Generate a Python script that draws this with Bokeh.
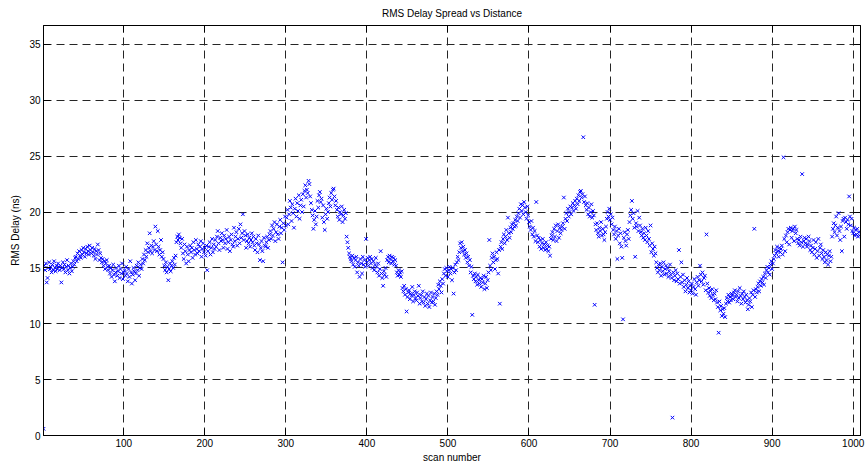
from bokeh.plotting import figure
from bokeh.models import LinearAxis, Range1d, FixedTicker, ColumnDataSource
from bokeh.embed import file_html
from bokeh.resources import INLINE

# RMS delay spread (ns) per scan, in blocks of 100 scans
delay_0001_0100 = [
    0.6, 15.2, 14.8, 15.4, 13.7, 14.1, 15.0, 15.5, 14.9, 15.1, 14.6, 15.3, 14.8, 15.6, 15.0, 14.7, 15.2, 14.9, 15.4, 15.1,
    14.8, 15.2, 13.7, 15.0, 15.5, 14.9, 15.3, 14.6, 15.1, 15.7, 14.8, 15.2, 14.5, 15.0, 15.4, 14.7, 15.1, 15.6, 15.3, 15.9,
    16.0, 15.6, 16.3, 15.8, 16.5, 16.1, 15.9, 16.6, 16.2, 16.8, 16.4, 16.0, 16.7, 16.3, 16.9, 16.5, 16.2, 17.0, 16.6, 16.3,
    16.8, 16.4, 16.1, 16.7, 15.8, 16.5, 16.2, 17.1, 16.6, 15.7, 16.3, 15.9, 15.5, 15.8, 15.2, 15.6, 14.9, 15.4, 15.7, 15.1,
    14.8, 15.2, 14.5, 15.0, 14.2, 14.8, 15.3, 14.4, 13.8, 14.6, 15.0, 14.3, 14.7, 15.2, 14.1, 14.9, 14.5, 15.4, 14.0, 14.6,
]
delay_0101_0200 = [
    14.8, 14.3, 15.1, 14.5, 13.8, 14.9, 14.2, 15.6, 14.6, 13.6, 14.4, 15.0, 14.7, 13.9, 14.5, 15.2, 14.8, 15.5, 14.3, 15.0,
    15.3, 14.9, 15.8, 15.4, 16.2, 15.7, 16.6, 16.0, 17.2, 16.4, 16.8, 18.1, 16.5, 17.0, 16.3, 16.9, 17.4, 16.6, 18.7, 17.1,
    16.5, 18.3, 16.9, 16.2, 16.6, 17.5, 16.0, 16.4, 15.8, 15.2, 14.8, 15.5, 14.6, 15.1, 13.9, 14.9, 15.4, 14.7, 15.2, 15.6,
    15.0, 15.9, 15.3, 16.1, 17.3, 17.8, 17.5, 18.0, 17.7, 17.2, 16.8, 17.6, 16.3, 15.8, 17.1, 16.5, 15.4, 16.9, 16.2, 15.6,
    16.6, 17.0, 16.4, 16.8, 15.9, 17.3, 16.6, 16.2, 17.5, 16.7, 16.3, 17.1, 16.5, 16.9, 17.4, 16.0, 16.7, 17.2, 16.4, 16.8,
]
delay_0201_0300 = [
    16.1, 17.0, 14.8, 16.5, 16.9, 17.3, 16.2, 16.8, 17.6, 16.4, 17.1, 16.7, 17.5, 16.9, 17.8, 18.3, 17.2, 16.6, 17.7, 17.4,
    18.1, 17.5, 16.8, 17.9, 17.2, 17.6, 18.4, 16.7, 17.3, 17.8, 16.5, 17.5, 18.0, 17.1, 16.9, 18.6, 17.4, 17.8, 18.2, 17.0,
    17.6, 18.5, 17.2, 18.9, 17.7, 18.1, 19.8, 17.5, 18.3, 17.9, 16.8, 17.4, 18.0, 17.2, 17.7, 16.9, 17.5, 18.1, 17.3, 17.8,
    17.0, 16.6, 17.6, 17.2, 16.4, 17.9, 17.1, 15.7, 16.8, 17.4, 16.5, 15.6, 17.7, 17.0, 16.9, 17.3, 17.8, 16.8, 17.5, 18.0,
    18.3, 17.6, 18.8, 17.9, 18.5, 19.1, 17.4, 18.2, 18.9, 18.0, 17.6, 18.7, 19.3, 18.1, 18.6, 15.5, 19.0, 18.4, 19.6, 18.8,
]
delay_0301_0400 = [
    19.5, 20.2, 18.9, 19.8, 21.0, 20.4, 19.2, 20.7, 19.9, 18.6, 20.3, 21.2, 19.6, 20.8, 20.1, 21.5, 19.4, 20.6, 21.1, 20.0,
    21.6, 20.5, 21.9, 22.4, 21.3, 22.0, 21.7, 22.8, 22.5, 21.4, 20.8, 20.2, 19.7, 18.5, 19.3, 20.1, 18.9, 19.6, 21.0, 20.4,
    21.5, 21.8, 20.9, 21.2, 19.5, 20.6, 19.1, 18.4, 19.8, 20.3, 19.4, 20.0, 20.8, 21.3, 20.5, 21.7, 21.1, 22.0, 22.1, 21.4,
    20.6, 21.0, 20.2, 19.6, 20.4, 19.3, 20.0, 19.8, 20.5, 19.1, 19.7, 20.2, 19.4, 19.9, 17.8, 17.3, 16.8, 16.3, 16.0, 15.8,
    15.6, 16.1, 15.3, 15.9, 15.1, 15.7, 16.0, 14.6, 15.5, 15.2, 14.2, 15.8, 15.4, 14.5, 16.0, 15.3, 15.7, 15.1, 17.6, 15.5,
]
delay_0401_0500 = [
    15.9, 15.2, 15.7, 16.0, 15.4, 15.8, 15.0, 15.6, 14.8, 15.3, 15.9, 15.1, 14.6, 15.4, 14.3, 14.9, 16.5, 14.5, 14.1, 13.4,
    14.7, 14.4, 15.0, 14.2, 15.7, 16.0, 15.5, 16.1, 15.8, 15.4, 16.0, 15.6, 15.9, 15.3, 15.7, 15.2, 14.6, 14.3, 14.8, 14.4,
    14.6, 14.2, 14.7, 13.2, 12.9, 13.4, 12.6, 13.1, 11.1, 12.4, 12.8, 13.0, 12.2, 12.7, 12.5, 13.3, 12.0, 12.6, 12.9, 12.3,
    12.1, 12.8, 12.5, 13.4, 11.8, 12.3, 12.6, 12.0, 12.9, 11.9, 12.4, 11.6, 12.2, 12.7, 11.8, 12.5, 11.5, 12.1, 12.8, 11.9,
    12.4, 12.0, 12.7, 11.7, 12.3, 12.9, 12.6, 13.5, 13.1, 13.8, 13.4, 12.8, 14.0, 13.6, 14.5, 14.9, 14.3, 15.0, 14.7, 14.2,
]
delay_0501_0600 = [
    14.8, 15.1, 14.5, 14.9, 13.9, 15.0, 12.7, 14.6, 15.3, 14.8, 15.5, 16.0, 15.7, 16.4, 17.2, 16.8, 17.3, 16.5, 16.9, 16.2,
    16.6, 15.9, 16.3, 15.5, 16.0, 15.2, 15.7, 14.6, 15.1, 10.8, 14.3, 14.0, 14.5, 13.8, 14.2, 13.5, 14.4, 13.9, 13.6, 14.1,
    13.3, 14.0, 13.7, 14.3, 13.1, 13.6, 14.2, 13.2, 13.9, 14.6, 17.5, 15.2, 14.8, 15.9, 16.3, 15.5, 16.0, 14.9, 15.7, 16.4,
    15.8, 14.5, 16.6, 11.8, 16.9, 17.3, 16.7, 17.6, 18.0, 17.2, 17.8, 18.4, 17.5, 19.5, 18.1, 17.7, 18.6, 18.2, 18.9, 18.5,
    19.0, 18.7, 19.3, 18.8, 19.6, 19.2, 19.9, 20.3, 19.5, 20.7, 20.1, 20.6, 19.8, 20.9, 20.4, 20.0, 19.4, 20.5, 19.7, 19.1,
]
delay_0601_0700 = [
    18.7, 18.4, 19.2, 18.0, 18.6, 17.8, 18.3, 17.4, 20.9, 17.9, 17.3, 17.7, 16.9, 17.5, 16.7, 17.2, 17.6, 16.8, 17.1, 16.6,
    17.3, 16.7, 17.0, 16.5, 16.9, 16.1, 17.6, 17.9, 18.2, 17.5, 18.5, 17.8, 18.8, 17.4, 18.3, 18.9, 17.7, 18.6, 18.1, 18.4,
    18.7, 19.0, 21.3, 18.5, 19.4, 19.9, 19.2, 20.3, 19.6, 20.0, 20.5, 19.8, 20.4, 20.8, 20.1, 20.6, 21.0, 20.3, 21.2, 20.7,
    21.5, 21.0, 21.8, 21.9, 21.3, 21.6, 26.7, 20.9, 21.4, 20.6, 20.2, 20.8, 19.8, 20.4, 19.6, 20.0, 20.7, 19.5, 20.1, 19.7,
    11.7, 18.9, 18.4, 19.0, 18.1, 17.8, 18.6, 18.3, 19.1, 17.9, 18.5, 18.0, 17.5, 18.2, 18.7, 19.4, 20.0, 19.6, 20.3, 19.3,
]
delay_0701_0800 = [
    19.8, 18.9, 19.5, 18.4, 18.0, 18.7, 17.6, 18.3, 15.8, 17.9, 18.5, 17.2, 18.1, 16.9, 15.9, 10.4, 17.7, 18.2, 17.4, 17.0,
    18.0, 18.4, 17.6, 19.1, 19.7, 20.2, 21.0, 19.4, 19.9, 18.6, 16.0, 19.0, 18.7, 20.1, 18.3, 19.5, 18.8, 18.2, 17.9, 18.5,
    17.7, 18.1, 17.5, 18.6, 17.9, 17.3, 18.3, 17.6, 17.0, 18.8, 16.4, 17.2, 16.7, 16.1, 16.9, 16.3, 15.5, 15.0, 14.6, 15.3,
    14.8, 15.4, 14.3, 15.1, 14.7, 15.5, 14.4, 14.9, 15.2, 14.5, 15.0, 14.2, 14.7, 15.3, 14.4, 14.1, 1.6, 14.6, 13.9, 14.3,
    14.8, 13.8, 14.5, 14.0, 16.6, 13.6, 14.2, 15.5, 13.7, 14.4, 13.3, 13.9, 12.9, 13.5, 14.1, 13.2, 13.8, 12.8, 13.4, 13.0,
]
delay_0801_0900 = [
    13.6, 12.7, 13.3, 14.0, 13.1, 12.6, 13.7, 14.2, 13.4, 13.9, 15.2, 14.4, 13.8, 14.6, 13.5, 14.1, 14.3, 13.0, 18.0, 13.6,
    12.8, 13.2, 12.5, 12.9, 12.3, 13.1, 12.6, 12.1, 12.7, 12.2, 13.0, 11.9, 11.5, 9.2, 12.0, 11.2, 11.6, 10.7, 11.3, 10.9,
    11.4, 10.6, 11.8, 12.3, 12.0, 12.6, 11.9, 12.4, 12.1, 12.7, 12.5, 12.2, 12.8, 13.0, 12.4, 12.6, 12.0, 12.9, 12.3, 13.2,
    12.5, 11.8, 12.7, 12.2, 12.9, 12.4, 11.9, 12.6, 12.1, 11.3, 11.7, 12.3, 12.0, 12.8, 11.5, 12.6, 13.0, 18.5, 12.4, 13.1,
    12.8, 13.3, 13.6, 12.9, 13.8, 13.4, 14.0, 13.7, 14.2, 13.5, 14.5, 14.1, 14.8, 15.1, 14.6, 15.0, 14.4, 15.3, 15.6, 14.9,
]
delay_0901_1008 = [
    15.4, 15.8, 16.1, 16.6, 16.3, 16.9, 16.5, 16.0, 16.8, 16.4, 16.7, 17.0, 16.2, 24.9, 17.6, 16.5, 17.9, 17.3, 18.2, 18.5,
    17.1, 18.4, 18.6, 17.7, 18.3, 18.5, 17.4, 18.7, 18.1, 18.4, 17.6, 17.2, 17.5, 17.0, 17.8, 17.3, 23.4, 16.9, 17.4, 17.7,
    17.2, 17.6, 16.9, 17.1, 17.8, 17.4, 16.6, 17.0, 16.4, 16.8, 17.5, 16.2, 16.7, 17.3, 15.9, 16.5, 17.6, 16.1, 16.8, 17.1,
    16.3, 15.8, 16.6, 16.0, 15.5, 16.4, 15.7, 16.2, 15.3, 16.1, 16.5, 15.6, 16.0, 17.8, 18.5, 19.0, 18.2, 18.8, 19.6, 17.9,
    18.6, 19.9, 18.3, 17.5, 18.7, 16.5, 19.2, 19.4, 17.8, 19.5, 19.1, 18.5, 19.3, 18.9, 21.4, 19.6, 18.8, 19.4, 18.3, 18.1,
    18.6, 17.9, 18.4, 18.0, 18.5, 17.8, 18.2, 17.9,
]

x_ticks = [100, 200, 300, 400, 500, 600, 700, 800, 900, 1000]
y_ticks = [0, 5, 10, 15, 20, 25, 30, 35]

delay = (delay_0001_0100 + delay_0101_0200 + delay_0201_0300 + delay_0301_0400 +
         delay_0401_0500 + delay_0501_0600 + delay_0601_0700 + delay_0701_0800 +
         delay_0801_0900 + delay_0901_1008)
scan = list(range(1, len(delay) + 1))

FONT = "Liberation Sans"

p = figure(width=865, height=465, output_backend="svg", toolbar_location=None,
           x_range=Range1d(1, 1009), y_range=Range1d(0, 36.7),
           min_border_left=43, min_border_right=5, min_border_top=25, min_border_bottom=30,
           title="RMS Delay Spread vs Distance")
p.background_fill_color = "white"
p.border_fill_color = "white"
p.outline_line_color = "black"
p.outline_line_width = 1
p.outline_line_alpha = 1

p.title.align = "center"
p.title.text_font = FONT
p.title.text_font_size = "10px"
p.title.text_font_style = "normal"
p.title.text_color = "black"
p.title.standoff = 2

src = ColumnDataSource(dict(scan=scan, delay=delay))
p.scatter(x="scan", y="delay", source=src, marker="x", size=5,
          line_color="#0000ff", line_width=1)

for ax in (p.xaxis[0], p.yaxis[0]):
    ax.major_tick_in = 7
    ax.major_tick_out = 0
    ax.minor_tick_line_color = None
    ax.axis_line_color = "black"
    ax.major_tick_line_color = "black"
    ax.major_label_text_font = FONT
    ax.major_label_text_font_size = "10px"
    ax.major_label_text_color = "black"
    ax.major_label_standoff = 3
    ax.axis_label_text_font = FONT
    ax.axis_label_text_font_size = "10px"
    ax.axis_label_text_font_style = "normal"
    ax.axis_label_text_color = "black"

p.xaxis[0].ticker = FixedTicker(ticks=x_ticks)
p.yaxis[0].ticker = FixedTicker(ticks=y_ticks)
p.xaxis[0].axis_label = "scan number"
p.yaxis[0].axis_label = "RMS Delay (ns)"
p.xaxis[0].axis_label_standoff = 2
p.yaxis[0].axis_label_standoff = 5

# mirror ticks on the top and right edges, without labels
top = LinearAxis(ticker=FixedTicker(ticks=x_ticks), major_label_text_font_size="1px",
                 major_label_text_color=None, major_label_text_alpha=0,
                 major_tick_in=7, major_tick_out=0, minor_tick_line_color=None,
                 axis_line_color="black", major_label_standoff=0)
right = LinearAxis(ticker=FixedTicker(ticks=y_ticks), major_label_text_font_size="1px",
                   major_label_text_color=None, major_label_text_alpha=0,
                   major_tick_in=7, major_tick_out=0, minor_tick_line_color=None,
                   axis_line_color="black", major_label_standoff=0)
# invisible spacer axis that lifts the title a few pixels above the frame
spacer = LinearAxis(ticker=FixedTicker(ticks=x_ticks), major_label_text_font_size="1px",
                    major_label_text_color=None, major_label_text_alpha=0,
                    major_tick_in=0, major_tick_out=6, major_tick_line_color=None,
                    minor_tick_line_color=None, axis_line_color=None, major_label_standoff=0)
p.add_layout(top, "above")
p.add_layout(spacer, "above")
p.add_layout(right, "right")

p.xgrid.ticker = FixedTicker(ticks=x_ticks)
p.ygrid.ticker = FixedTicker(ticks=y_ticks)
for g in (p.xgrid[0], p.ygrid[0]):
    g.grid_line_color = "#262626"
    g.grid_line_alpha = 1
    g.grid_line_width = 1
    g.grid_line_dash = "8 5"

open("out.html", "w").write(file_html(p, INLINE))
